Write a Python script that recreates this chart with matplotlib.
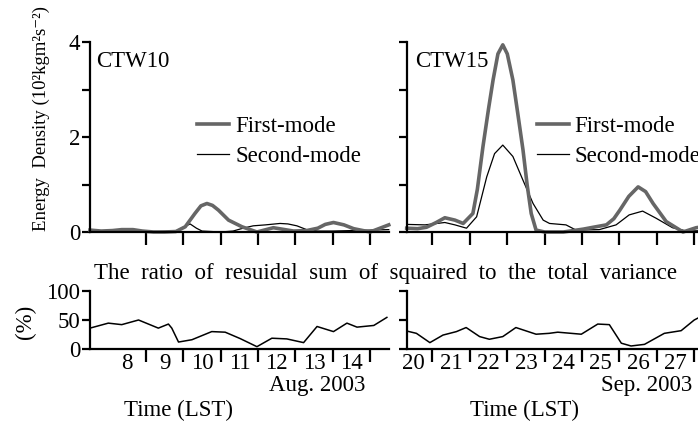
import matplotlib
matplotlib.use("Agg")
import matplotlib.pyplot as plt
from matplotlib.lines import Line2D

plt.rcParams['font.family'] = ['Liberation Serif', 'DejaVu Serif']

# ---- data (day-of-month; tick at d = start of day d) ----
aug_first_x = [7.5, 7.8, 8.1, 8.35, 8.65, 8.9, 9.2, 9.5, 9.8, 10.05, 10.31, 10.47, 10.63, 10.78,
               10.94, 11.21, 11.57, 11.97, 12.41, 12.95, 13.3, 13.6, 13.8, 14.02, 14.3, 14.56, 15.0, 15.5]
aug_first_y = [0.04, 0.02, 0.03, 0.05, 0.05, 0.02, 0.0, 0.0, 0.01, 0.11, 0.39, 0.55, 0.60, 0.56,
               0.46, 0.25, 0.11, 0.0, 0.09, 0.02, 0.03, 0.08, 0.16, 0.20, 0.15, 0.07, 0.0, 0.15]
aug_second_x = [7.5, 8.0, 9.0, 9.8, 10.0, 10.18, 10.35, 10.5, 11.0, 11.33, 11.6, 11.87, 12.2,
                12.59, 12.8, 13.04, 13.3, 13.6, 14.0, 14.5, 15.0, 15.5]
aug_second_y = [0.01, 0.0, 0.0, 0.02, 0.10, 0.17, 0.08, 0.02, 0.0, 0.02, 0.08, 0.13, 0.15,
                0.18, 0.17, 0.13, 0.05, 0.02, 0.02, 0.03, 0.04, 0.05]

sep_first_x = [20.31, 20.6, 20.84, 21.1, 21.33, 21.6, 21.82, 22.08, 22.2, 22.35, 22.5, 22.62,
               22.75, 22.88, 23.0, 23.15, 23.28, 23.42, 23.53, 23.64, 23.77, 24.0, 24.5, 25.03,
               25.3, 25.65, 25.85, 26.01, 26.25, 26.5, 26.7, 26.9, 27.25, 27.7, 28.05, 28.3]
sep_first_y = [0.08, 0.07, 0.10, 0.20, 0.30, 0.25, 0.18, 0.39, 0.90, 1.80, 2.60, 3.20,
               3.75, 3.94, 3.75, 3.20, 2.50, 1.73, 1.00, 0.39, 0.04, 0.0, 0.0, 0.06,
               0.10, 0.15, 0.28, 0.46, 0.75, 0.95, 0.85, 0.60, 0.22, 0.0, 0.09, 0.12]
sep_second_x = [20.31, 20.8, 21.33, 21.6, 21.91, 22.18, 22.45, 22.66, 22.88, 23.15, 23.42,
                23.69, 23.96, 24.13, 24.57, 24.84, 25.46, 25.91, 26.26, 26.62, 26.98, 27.42,
                27.8, 28.3]
sep_second_y = [0.16, 0.15, 0.20, 0.15, 0.08, 0.32, 1.16, 1.65, 1.83, 1.59, 1.09,
                0.60, 0.25, 0.18, 0.15, 0.04, 0.05, 0.15, 0.36, 0.44, 0.29, 0.09,
                0.02, 0.03]

aug_ratio_x = [7.5, 7.99, 8.35, 8.8, 9.33, 9.6, 9.69, 9.87, 10.23, 10.76, 11.12, 11.52, 11.97,
               12.37, 12.77, 13.22, 13.58, 14.02, 14.38, 14.65, 15.1, 15.45]
aug_ratio_y = [36, 44.6, 42, 50, 36, 43, 36, 12, 16, 30, 29, 18, 4,
               18.6, 17.4, 11, 38.8, 30, 44.6, 37.7, 40.6, 54.5]
sep_ratio_x = [20.31, 20.57, 20.93, 21.28, 21.64, 21.9, 22.26, 22.52, 22.88, 23.23, 23.77,
               24.12, 24.35, 24.98, 25.42, 25.73, 26.05, 26.31, 26.67, 27.2, 27.65, 28.0, 28.3]
sep_ratio_y = [31, 27, 11, 24, 30, 37, 21.4, 16.8, 21.4, 37, 25.5,
               27, 29, 25.5, 43, 42, 10, 5.2, 8, 27, 31.6, 50, 60]

aug_days = [8, 9, 10, 11, 12, 13, 14]
sep_days = [20, 21, 22, 23, 24, 25, 26, 27]
aug_xlim = (7.5, 15.5)
sep_xlim = (20.31, 28.3)

FS = 16.5
GRAY = '#666666'

fig = plt.figure(figsize=(6.98, 4.26), dpi=100)
W = 0.428
ax_tl = fig.add_axes([90/698, 1-232/426, W, 190/426])
ax_tr = fig.add_axes([406.7/698, 1-232/426, W, 190/426])
ax_bl = fig.add_axes([90/698, 1-349/426, W, 58/426])
ax_br = fig.add_axes([406.7/698, 1-349/426, W, 58/426])

for ax in (ax_tl, ax_tr, ax_bl, ax_br):
    for s in ('top', 'right'):
        ax.spines[s].set_visible(False)
    for s in ('left', 'bottom'):
        ax.spines[s].set_linewidth(1.6)
    ax.tick_params(axis='y', which='major', direction='out', length=6, width=1.6,
                   labelsize=FS, pad=1)
    ax.tick_params(axis='x', which='major', direction='out', length=9.5, width=1.6,
                   labelbottom=False)
    ax.tick_params(axis='x', which='minor', length=0, labelsize=FS, pad=3)

# top panels
for ax, fx, fy, sx, sy, xl, days, name, tx in (
        (ax_tl, aug_first_x, aug_first_y, aug_second_x, aug_second_y, aug_xlim, aug_days, 'CTW10', 0.02),
        (ax_tr, sep_first_x, sep_first_y, sep_second_x, sep_second_y, sep_xlim, sep_days, 'CTW15', 0.028)):
    ax.plot(sx, sy, color='black', lw=0.9, clip_on=False)
    ax.plot(fx, fy, color=GRAY, lw=2.6, clip_on=False)
    ax.set_xlim(*xl)
    ax.set_ylim(0, 4)
    ax.set_yticks([0, 1, 2, 3, 4])
    ax.set_xticks([d + 1 for d in days])
    ax.text(tx, 0.895, name, transform=ax.transAxes, fontsize=FS, va='center', ha='left')

ax_tl.set_yticklabels(['0', '', '2', '', '4'])
ax_tr.set_yticklabels([])

handles = [Line2D([], [], color=GRAY, lw=2.6), Line2D([], [], color='black', lw=0.9)]
labels = ['First-mode', 'Second-mode']
for ax, x0 in ((ax_tl, 0.359), (ax_tr, 0.435)):
    ax.legend(handles, labels, loc='upper left', bbox_to_anchor=(x0, 0.61), frameon=False,
              fontsize=FS, handlelength=1.4, handletextpad=0.25, labelspacing=0.38,
              borderpad=0, borderaxespad=0)

# bottom panels
for ax, rx, ry, xl, days in ((ax_bl, aug_ratio_x, aug_ratio_y, aug_xlim, aug_days),
                             (ax_br, sep_ratio_x, sep_ratio_y, sep_xlim, sep_days)):
    ax.plot(rx, ry, color='black', lw=1.1)
    ax.set_xlim(*xl)
    ax.set_ylim(0, 100)
    ax.set_yticks([0, 50, 100])
    ax.set_xticks([d + 1 for d in days])
    ax.set_xticks([d + 0.5 for d in days], minor=True)
    ax.set_xticklabels([str(d) for d in days], minor=True)

ax_br.set_yticklabels([])

fig.text(41/698, 1-119/426, 'Energy  Density (10²kgm²s⁻²)', rotation=90,
         ha='center', va='center', fontsize=13.5)
fig.text(25/698, 1-322/426, '(%)', rotation=90, ha='center', va='center', fontsize=FS)
fig.text(386/698, 1-274/426,
         'The  ratio  of  resuidal  sum  of  squaired  to  the  total  variance',
         ha='center', va='center', fontsize=FS)
fig.text(365/698, 1-386/426, 'Aug. 2003', ha='right', va='center', fontsize=FS)
fig.text(692/698, 1-386/426, 'Sep. 2003', ha='right', va='center', fontsize=FS)
fig.text(178/698, 1-410/426, 'Time (LST)', ha='center', va='center', fontsize=FS)
fig.text(525/698, 1-410/426, 'Time (LST)', ha='center', va='center', fontsize=FS)

fig.savefig('out.png', dpi=100)
